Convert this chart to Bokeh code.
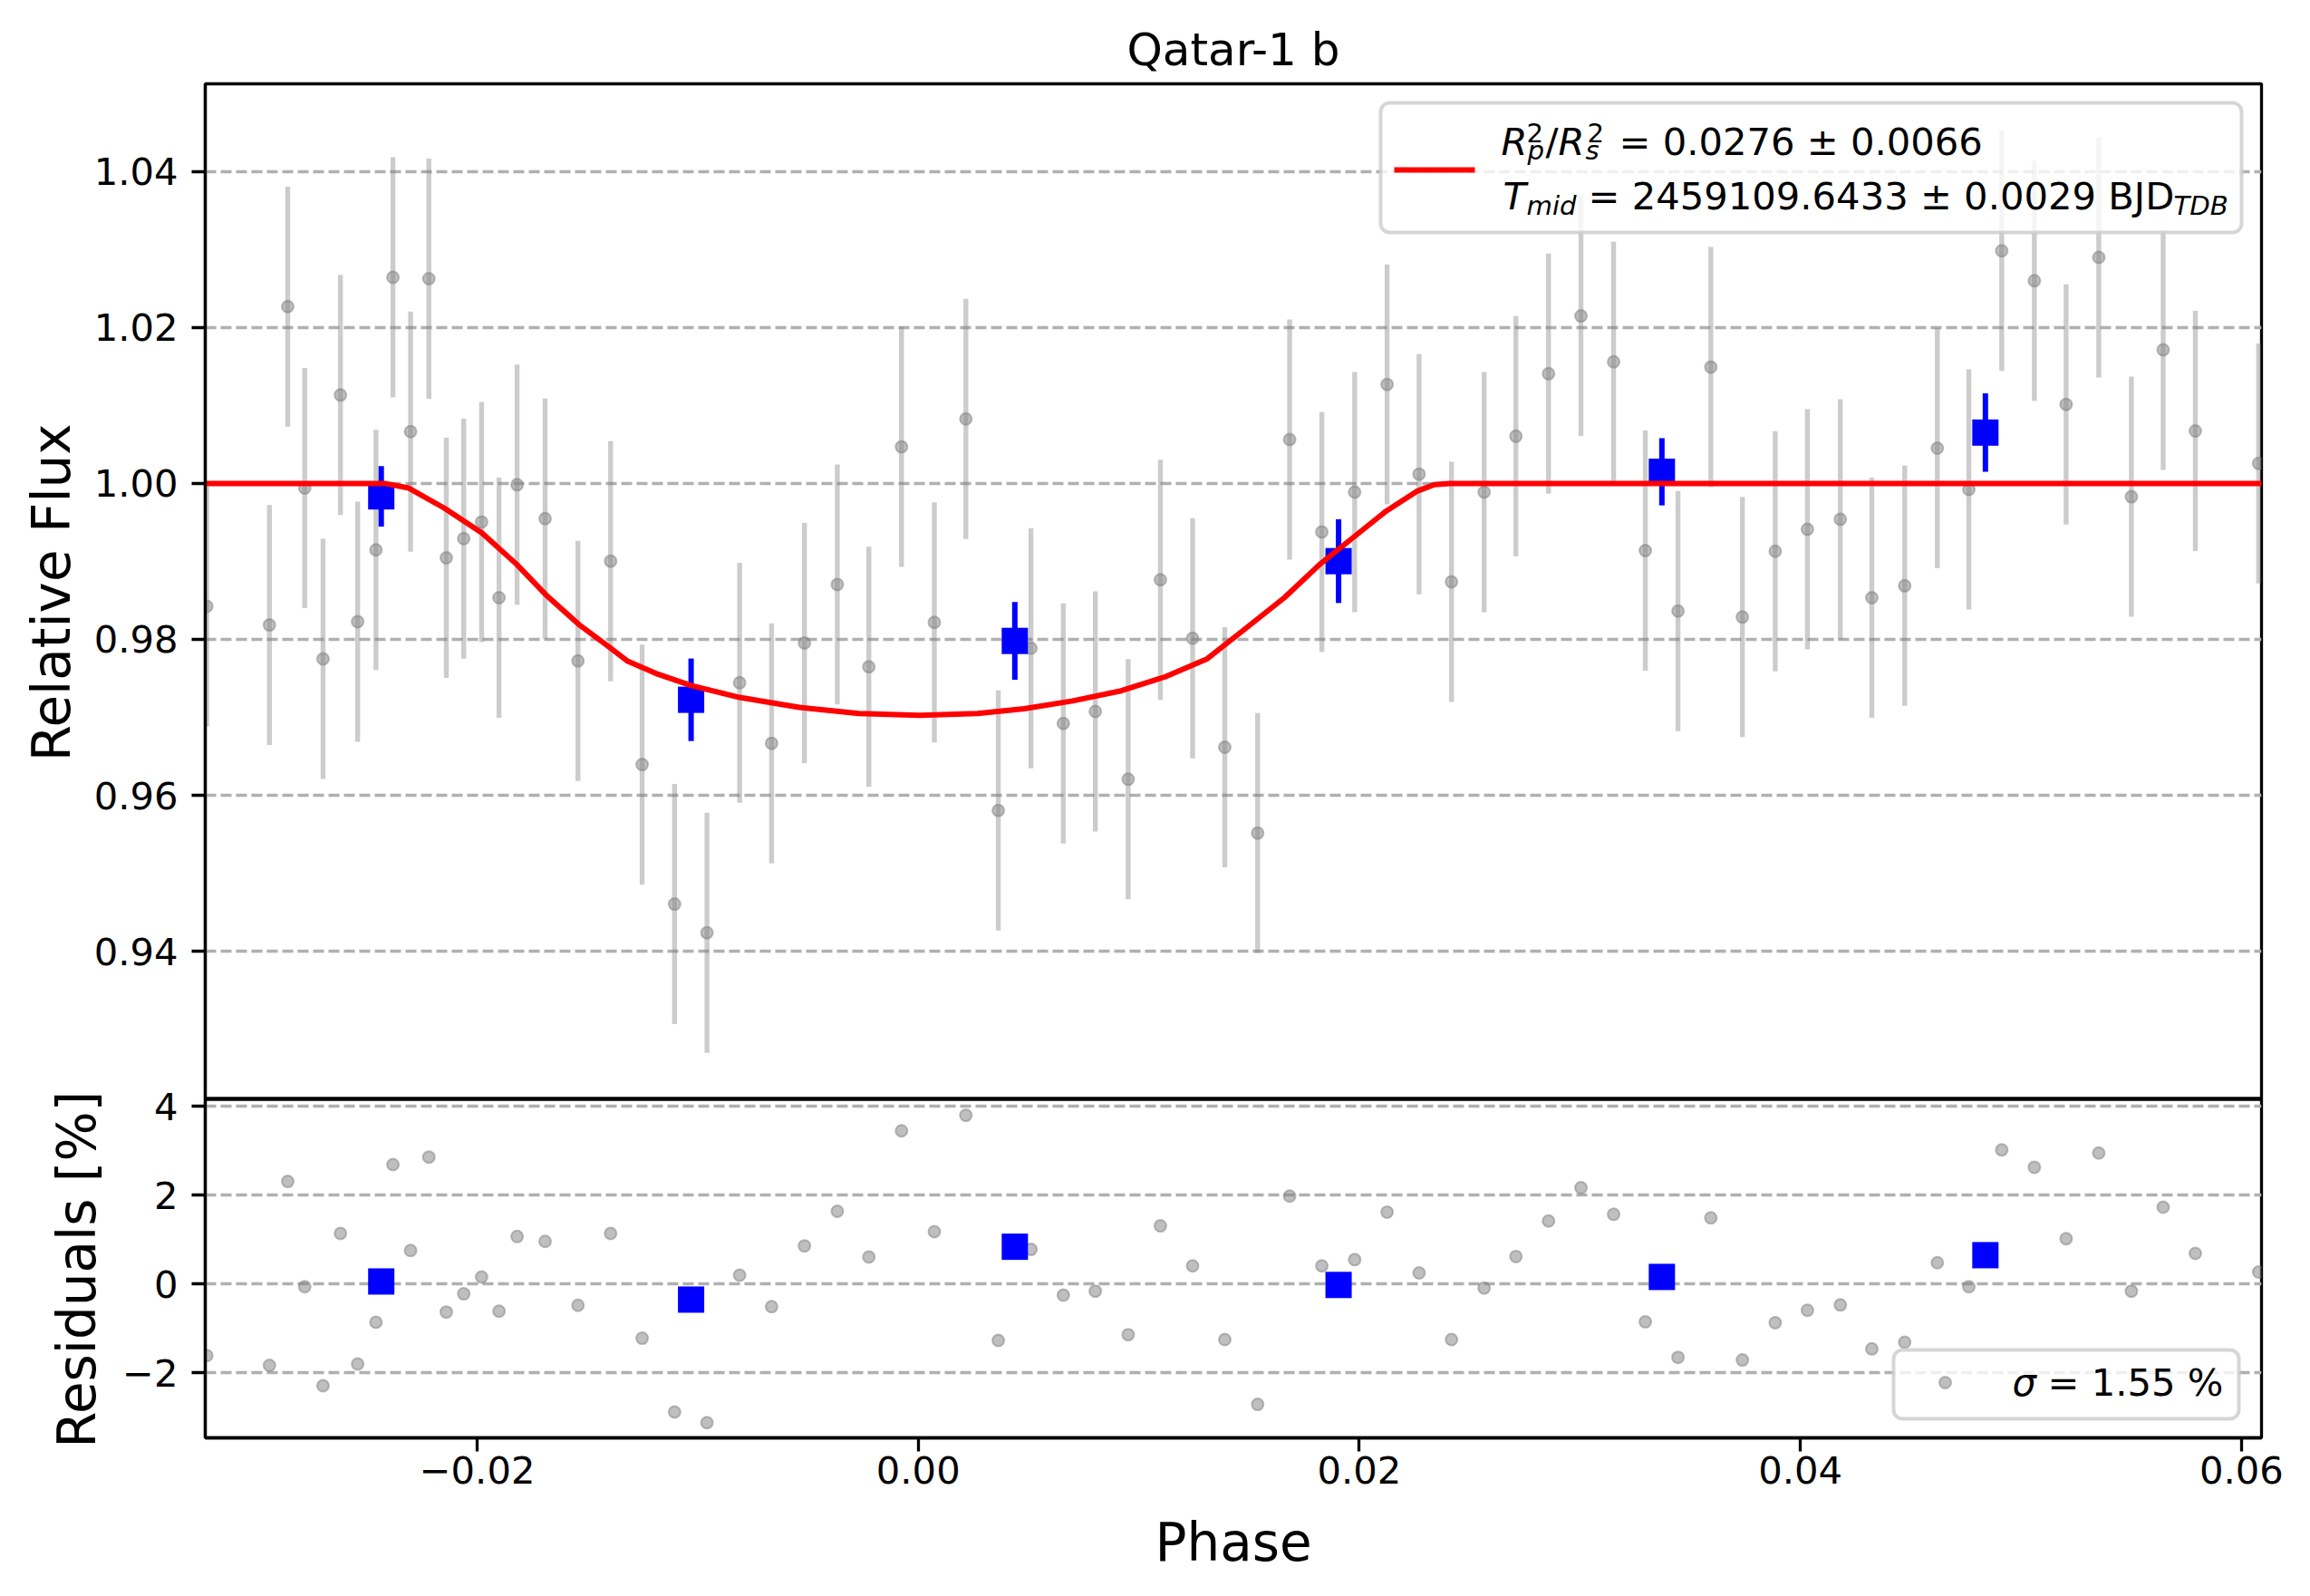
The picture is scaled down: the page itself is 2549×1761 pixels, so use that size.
from bokeh.plotting import figure
from bokeh.models import Range1d, FixedTicker, Label, BoxAnnotation, Grid, Span, Title
from bokeh.embed import file_html
from bokeh.resources import INLINE

# ---------------- data ----------------
phase = [-0.03226, -0.02942, -0.02859, -0.02782, -0.02699, -0.02620, -0.02542, -0.02459,
         -0.02382, -0.02302, -0.02219, -0.02140, -0.02061, -0.01980, -0.01901, -0.01819,
         -0.01692, -0.01543, -0.01395, -0.01252, -0.01105, -0.00958, -0.00810, -0.00665,
         -0.00516, -0.00367, -0.00224, -0.00076, 0.00073, 0.00216, 0.00363, 0.00511,
         0.00658, 0.00803, 0.00952, 0.01098, 0.01244, 0.01390, 0.01539, 0.01684,
         0.01830, 0.01979, 0.02126, 0.02271, 0.02418, 0.02566, 0.02710, 0.02858,
         0.03005, 0.03153, 0.03297, 0.03445, 0.03594, 0.03737, 0.03886, 0.04032,
         0.04181, 0.04324, 0.04473, 0.04621, 0.04764, 0.04913, 0.05061, 0.05205,
         0.05353, 0.05501, 0.05645, 0.05791, 0.06078]
flux = [0.98423, 0.98184, 1.02268, 0.99940, 0.97749, 1.01134, 0.98227, 0.99148,
        1.02643, 1.00665, 1.02626, 0.99045, 0.99292, 0.99506, 0.98534, 0.99983,
        0.99548, 0.97724, 0.99003, 0.96394, 0.94604, 0.94237, 0.97443, 0.96667,
        0.97954, 0.98704, 0.97647, 1.00469, 0.98218, 1.00827, 0.95806, 0.97886,
        0.96922, 0.97076, 0.96206, 0.98764, 0.98014, 0.96616, 0.95516, 1.00563,
        0.99378, 0.99889, 1.01270, 1.00119, 0.98738, 0.99889, 1.00605, 1.01407,
        1.02148, 1.01560, 0.99139, 0.98363, 1.01492, 0.98286, 0.99130, 0.99412,
        0.99540, 0.98534, 0.98687, 1.00452, 0.99923, 1.02984, 1.02600, 1.01014,
        1.02899, 0.99829, 1.01714, 1.00673, 1.00256]
flux_err = 0.0154
resid_pct = [-1.61, -1.83, 2.31, -0.06, -2.29, 1.14, -1.80, -0.86, 2.69, 0.755,
             2.86, -0.63, -0.22, 0.16, -0.61, 1.07, 0.96, -0.48, 1.14, -1.22,
             -2.88, -3.12, 0.20, -0.51, 0.86, 1.64, 0.61, 3.45, 1.18, 3.80,
             -1.27, 0.78, -0.25, -0.16, -1.14, 1.31, 0.41, -1.25, -2.71, 1.98,
             0.41, 0.55, 1.62, 0.25, -1.25, -0.09, 0.62, 1.42, 2.17, 1.57,
             -0.85, -1.65, 1.49, -1.71, -0.87, -0.59, -0.47, -1.46, -1.31, 0.48,
             -0.06, 3.02, 2.63, 1.02, 2.95, -0.16, 1.73, 0.69, 0.27]

bin_phase = [-0.02435, -0.01030, 0.00438, 0.01906, 0.03372, 0.04839]
bin_flux = [0.99834, 0.97225, 0.97980, 0.99003, 1.00149, 1.00652]
bin_err = [0.00388, 0.00529, 0.00499, 0.00537, 0.00431, 0.00503]
bin_resid_pct = [0.058, -0.35, 0.84, -0.02, 0.16, 0.65]

model_phase = [-0.0323, -0.0242, -0.0231, -0.0215, -0.0198, -0.0182, -0.0169, -0.0154,
               -0.0141, -0.0132, -0.0118, -0.0103, -0.0081, -0.0054, -0.0027, 0.0000,
               0.0027, 0.0048, 0.0070, 0.0092, 0.0112, 0.0131, 0.0147, 0.0166,
               0.0182, 0.0197, 0.0212, 0.0226, 0.0234, 0.0241, 0.0609]
model_flux = [1.0000, 1.0000, 0.9994, 0.99685, 0.99369, 0.98960, 0.98576, 0.98193,
              0.97920, 0.97724, 0.97553, 0.97408, 0.97255, 0.97127, 0.9705, 0.97025,
              0.9705, 0.97110, 0.9721, 0.97340, 0.9752, 0.97750, 0.98107, 0.98534,
              0.98960, 0.99301, 0.99642, 0.99898, 0.99985, 1.0000, 1.0000]

x_ticks = [-0.02, 0.0, 0.02, 0.04, 0.06]
x_tick_labels = ["\u22120.02", "0.00", "0.02", "0.04", "0.06"]
flux_ticks = [0.94, 0.96, 0.98, 1.00, 1.02, 1.04]
flux_tick_labels = ["0.94", "0.96", "0.98", "1.00", "1.02", "1.04"]
resid_ticks = [-2, 0, 2, 4]
resid_tick_labels = ["\u22122", "0", "2", "4"]

title_text = "Qatar-1 b"
flux_label = "Relative Flux"
resid_label = "Residuals [%]"
phase_label = "Phase"
depth_value_text = "= 0.0276 \u00b1 0.0066"
tmid_value_text = "= 2459109.6433 \u00b1 0.0029 BJD"
sigma_value_text = "= 1.55 %"

# ---------------- geometry (page pixels) ----------------
PAGE_W, PAGE_H = 2549, 1761
FRAME_LEFT, FRAME_RIGHT = 226, 2495
TOP_FRAME_TOP, SPLIT_Y, BOT_FRAME_BOTTOM = 92, 1212, 1586

X_START, X_END = -0.03233, 0.06091
FLUX_START, FLUX_END = 0.92106, 1.05125     # upper panel
RES_START, RES_END = -3.463, 4.169          # lower panel

FONT = "DejaVu Sans"
TICK_PX = 41.7
LABEL_PX = 58
TITLE_PX = 50
MAIN_PX = 41.7
SCRIPT_PX = 29.2
SPINE_W = 3.3


def page_x(px):
    return X_START + (px - FRAME_LEFT) / (FRAME_RIGHT - FRAME_LEFT) * (X_END - X_START)


def page_y(py):
    # flux-scale coordinate of a page row; valid over the whole frame
    return FLUX_END - (py - TOP_FRAME_TOP) / (SPLIT_Y - TOP_FRAME_TOP) * (FLUX_END - FLUX_START)


def resid_row(r):
    return BOT_FRAME_BOTTOM - (r - RES_START) / (RES_END - RES_START) * (BOT_FRAME_BOTTOM - SPLIT_Y)


# the upper panel's scale continues down through the residual strip,
# while the residuals get their own range that fills only the lower strip
FLUX_VIEW_START = page_y(BOT_FRAME_BOTTOM)
RES_VIEW_END = RES_START + (BOT_FRAME_BOTTOM - TOP_FRAME_TOP) / (BOT_FRAME_BOTTOM - SPLIT_Y) * (RES_END - RES_START)

p = figure(width=PAGE_W, height=PAGE_H,
           x_range=Range1d(X_START, X_END), y_range=Range1d(FLUX_VIEW_START, FLUX_END),
           min_border_left=FRAME_LEFT, min_border_right=PAGE_W - FRAME_RIGHT,
           min_border_top=TOP_FRAME_TOP, min_border_bottom=PAGE_H - BOT_FRAME_BOTTOM,
           output_backend="svg", toolbar_location=None, title=title_text)
p.extra_y_ranges = {"res": Range1d(RES_START, RES_VIEW_END)}

p.background_fill_color = "white"
p.border_fill_color = "white"
p.outline_line_color = "black"
p.outline_line_width = SPINE_W
p.outline_line_alpha = 1.0

p.title.text_font = FONT
p.title.text_font_size = f"{TITLE_PX}px"
p.title.text_font_style = "normal"
p.title.text_color = "black"
p.title.align = "center"
p.title.standoff = 18

for ax in p.xaxis + p.yaxis:
    ax.axis_line_width = SPINE_W
    ax.axis_line_color = "black"
    ax.major_tick_line_width = SPINE_W
    ax.major_tick_line_color = "black"
    ax.major_tick_out = 15
    ax.major_tick_in = 0
    ax.minor_tick_out = 0
    ax.minor_tick_in = 0
    ax.major_label_text_font = FONT
    ax.major_label_text_font_size = f"{TICK_PX}px"
    ax.major_label_text_color = "black"
    ax.axis_label_text_font = FONT
    ax.axis_label_text_font_size = f"{LABEL_PX}px"
    ax.axis_label_text_font_style = "normal"
    ax.axis_label_text_color = "black"

# x axis (shared phase axis at the bottom)
p.xaxis.ticker = FixedTicker(ticks=x_ticks)
p.xaxis.major_label_overrides = dict(zip(x_ticks, x_tick_labels))
p.xaxis.major_label_standoff = 5
p.xaxis.axis_label = phase_label
p.xaxis.axis_label_standoff = 28

# one left axis carrying both panels' ticks
resid_tick_pos = [page_y(resid_row(r)) for r in resid_ticks]
p.yaxis.ticker = FixedTicker(ticks=flux_ticks + resid_tick_pos)
p.yaxis.major_label_overrides = dict(zip(flux_ticks + resid_tick_pos,
                                         flux_tick_labels + resid_tick_labels))
p.yaxis.major_label_standoff = 15

# vertical panel labels, stacked outward from the y axis and pulled back
# toward it so that each sits beside its own panel (a title's text is
# shifted by half its standoff)
AXIS_SLOT_LEFT = FRAME_LEFT - (15 + 15 + 92.8)
DESC = 0.236 * LABEL_PX
TEXT_H = 1.164 * LABEL_PX
RESID_BASELINE_X, FLUX_BASELINE_X = 108, 80


def side_label(text, start_row, standoff):
    return Title(text=text, align="left", offset=BOT_FRAME_BOTTOM - start_row,
                 standoff=standoff, vertical_align="bottom", text_font=FONT,
                 text_font_size=f"{LABEL_PX}px", text_font_style="normal", text_color="black")


resid_standoff = 2 * (AXIS_SLOT_LEFT - (RESID_BASELINE_X + DESC))
resid_slot_left = AXIS_SLOT_LEFT - (2 + TEXT_H + resid_standoff)
flux_standoff = 2 * (resid_slot_left - (FLUX_BASELINE_X + DESC))
p.add_layout(side_label(resid_label, (SPLIT_Y + BOT_FRAME_BOTTOM) / 2 + 198.3, resid_standoff), "left")
p.add_layout(side_label(flux_label, (TOP_FRAME_TOP + SPLIT_Y) / 2 + 187.8, flux_standoff), "left")

# horizontal dashed grids for each panel
p.xgrid.visible = False
p.ygrid.ticker = FixedTicker(ticks=flux_ticks)
grid_style = dict(grid_line_color="#b0b0b0", grid_line_width=SPINE_W, grid_line_dash="12 5")
for k, v in grid_style.items():
    setattr(p.ygrid[0], k, v)
p.add_layout(Grid(dimension=1, ticker=FixedTicker(ticks=resid_ticks), y_range_name="res",
                  **grid_style))

# panel divider
p.add_layout(Span(location=FLUX_START, dimension="width", line_color="black",
                  line_width=4.5))

# ---------------- upper panel: light curve ----------------
p.segment(x0=phase, y0=[f - flux_err for f in flux], x1=phase, y1=[f + flux_err for f in flux],
          line_color="gray", line_alpha=0.4, line_width=5.4)
p.scatter(x=phase, y=flux, marker="circle", size=13,
          fill_color="gray", fill_alpha=0.5, line_color="gray", line_alpha=0.5, line_width=2)
p.segment(x0=bin_phase, y0=[f - e for f, e in zip(bin_flux, bin_err)],
          x1=bin_phase, y1=[f + e for f, e in zip(bin_flux, bin_err)],
          line_color="blue", line_width=6)
p.scatter(x=bin_phase, y=bin_flux, marker="square", size=29, fill_color="blue", line_color=None)
p.line(model_phase, model_flux, line_color="red", line_width=6)

# ---------------- lower panel: residuals ----------------
p.scatter(x=phase, y=resid_pct, y_range_name="res", marker="circle", size=13,
          fill_color="gray", fill_alpha=0.5, line_color="gray", line_alpha=0.5, line_width=2)
p.scatter(x=bin_phase, y=bin_resid_pct, y_range_name="res", marker="square", size=29,
          fill_color="blue", line_color=None)


# ---------------- legends ----------------
def add_text(px, py, text, size_px, style="normal"):
    # py is the intended baseline row; the anchor sits at the middle of the caps
    p.add_layout(Label(x=page_x(px), y=page_y(py - 0.36 * size_px), text=text,
                       text_font=FONT, text_font_size=f"{size_px}px", text_font_style=style,
                       text_color="black", text_align="left", text_baseline="alphabetic",
                       level="overlay"))


legend_box = dict(fill_color="white", fill_alpha=0.8, line_color="#cccccc", line_alpha=0.8,
                  line_width=4, border_radius=10, level="annotation")
p.add_layout(BoxAnnotation(left=page_x(1523), right=page_x(2473),
                           top=page_y(113), bottom=page_y(256), **legend_box))
fit_handle = p.segment(x0=[page_x(1538)], y0=[page_y(187)], x1=[page_x(1627)], y1=[page_y(187)],
                       line_color="red", line_width=6)
fit_handle.level = "overlay"

legend_pieces = [
    (1656, 170.7, "R", MAIN_PX, "italic"),
    (1684, 157, "2", SCRIPT_PX, "normal"),
    (1685, 176, "p", SCRIPT_PX, "italic"),
    (1705, 170.7, "/", MAIN_PX, "normal"),
    (1719, 170.7, "R", MAIN_PX, "italic"),
    (1751, 157, "2", SCRIPT_PX, "normal"),
    (1749, 176, "s", SCRIPT_PX, "italic"),
    (1786, 170.7, depth_value_text, MAIN_PX, "normal"),
    (1658, 230.7, "T", MAIN_PX, "italic"),
    (1684, 237, "mid", SCRIPT_PX, "italic"),
    (1752, 230.7, tmid_value_text, MAIN_PX, "normal"),
    (2398, 237, "TDB", SCRIPT_PX, "italic"),
]
for px, py, txt, size, style in legend_pieces:
    add_text(px, py, txt, size, style)

p.add_layout(BoxAnnotation(left=page_x(2089), right=page_x(2470),
                           top=page_y(1489), bottom=page_y(1565), **legend_box))
sigma_handle = p.scatter(x=[page_x(2146)], y=[page_y(1525)], marker="circle", size=13,
                         fill_color="gray", fill_alpha=0.5, line_color="gray",
                         line_alpha=0.5, line_width=2)
sigma_handle.level = "overlay"
add_text(2220, 1540, "\u03c3", MAIN_PX, "italic")
add_text(2259, 1540, sigma_value_text, MAIN_PX, "normal")

open("out.html", "w").write(file_html(p, INLINE))
